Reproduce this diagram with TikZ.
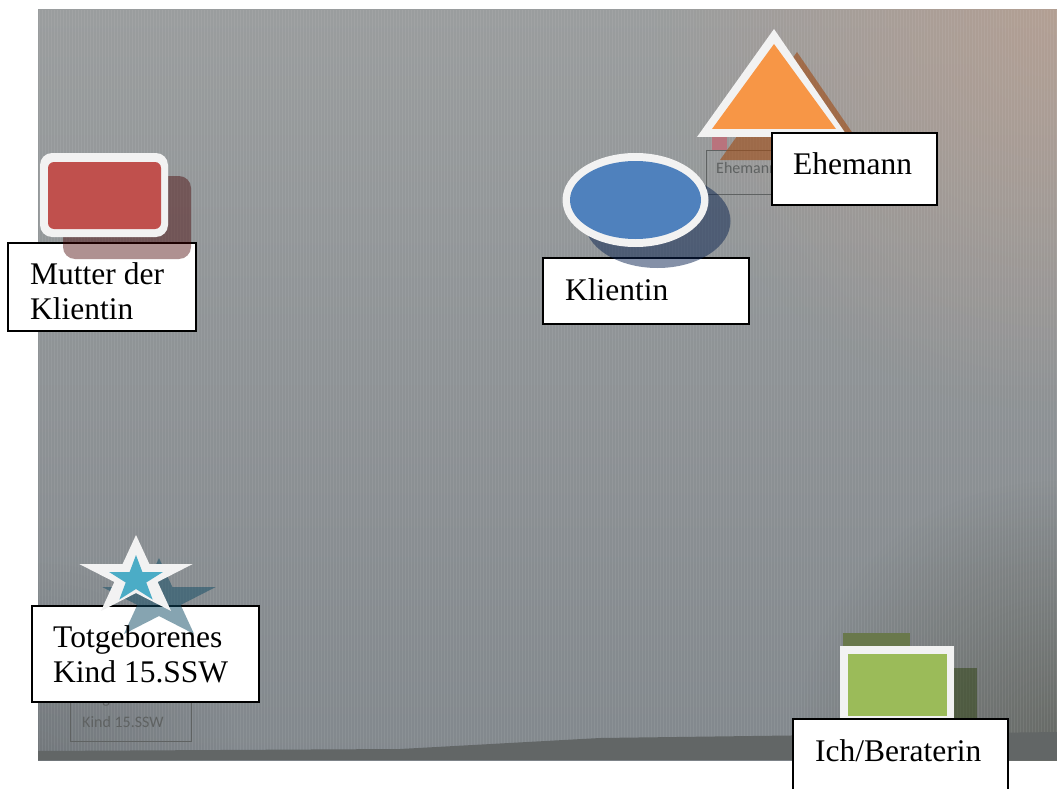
\documentclass[tikz,border=0pt]{standalone}
\usepackage{fontspec}
\setmainfont{Liberation Serif}
\newfontfamily\ghostfont{Carlito}
\usetikzlibrary{fadings}
\definecolor{bgtop}{RGB}{154,157,158}
\definecolor{bgbot}{RGB}{130,136,141}
\definecolor{bgwarm}{RGB}{185,160,145}
\definecolor{bgdark}{RGB}{70,70,55}
\definecolor{bezel}{RGB}{98,102,102}
\definecolor{ghostgray}{RGB}{95,98,98}
\definecolor{outline}{RGB}{242,242,242}
\definecolor{redfill}{RGB}{192,80,77}
\definecolor{bluefill}{RGB}{79,129,189}
\definecolor{orangefill}{RGB}{247,150,70}
\definecolor{greenfill}{RGB}{155,187,89}
\definecolor{tealfill}{RGB}{75,172,198}
\definecolor{redshadow}{RGB}{70,0,0}
\definecolor{blueshadow}{RGB}{10,35,80}
\definecolor{orangeshadow}{RGB}{160,75,20}
\definecolor{greenshadow}{RGB}{45,65,15}
\definecolor{tealshadow}{RGB}{15,75,100}
\definecolor{photogreen}{RGB}{105,120,75}
\definecolor{photopink}{RGB}{185,115,125}
\tikzfading[name=radfade, inner color=transparent!0, outer color=transparent!100]
% star path: #1 options, #2 cx, #3 cy, #4 R, #5 xscale
\newcommand{\mystarpath}[5]{%
  \path[#1]
    ({#2+#5*#4*cos(90)},{#3-#4*sin(90)}) --
    ({#2+#5*0.382*#4*cos(126)},{#3-0.382*#4*sin(126)}) --
    ({#2+#5*#4*cos(162)},{#3-#4*sin(162)}) --
    ({#2+#5*0.382*#4*cos(198)},{#3-0.382*#4*sin(198)}) --
    ({#2+#5*#4*cos(234)},{#3-#4*sin(234)}) --
    ({#2+#5*0.382*#4*cos(270)},{#3-0.382*#4*sin(270)}) --
    ({#2+#5*#4*cos(306)},{#3-#4*sin(306)}) --
    ({#2+#5*0.382*#4*cos(342)},{#3-0.382*#4*sin(342)}) --
    ({#2+#5*#4*cos(18)},{#3-#4*sin(18)}) --
    ({#2+#5*0.382*#4*cos(54)},{#3-0.382*#4*sin(54)}) -- cycle;}
\begin{document}
\begin{tikzpicture}[x=1pt,y=-1pt,
  labelbox/.style={draw=black, line width=1.3pt, fill=white},
  labeltext/.style={font=\fontsize{31.5}{35}\selectfont, inner sep=0pt, anchor=base west},
  ghosttext/.style={font=\ghostfont\fontsize{16}{18}\selectfont, text=ghostgray, inner sep=0pt, anchor=base west},
  ghostbox/.style={draw=ghostgray, line width=0.8pt},
  stripe/.style={white, opacity=0.07, line width=1pt}]
\useasboundingbox (0,0) rectangle (1057,789);
\fill[white] (0,0) rectangle (1057,789);
% ---- photo background ----
\begin{scope}
  \clip (38,10) rectangle (1057,760);
  \shade[top color=bgtop, bottom color=bgbot] (38,10) rectangle (1057,760);
  \fill[bgwarm, opacity=0.8, path fading=radfade] (1057,10) circle [radius=400pt];
  \fill[bgdark, opacity=0.45, path fading=radfade] (1057,740) circle [radius=260pt];
  \fill[black, opacity=0.12, path fading=radfade] (38,760) circle [radius=200pt];
  \foreach \sx in {39,42,...,1056} { \draw[stripe] (\sx,10) -- (\sx,760); }
  \fill[bezel] (38,751) -- (400,749) -- (600,738) -- (1057,732) -- (1057,760) -- (38,760) -- cycle;
  % faint shapes of the photographed screen
  \fill[photopink] (712,137) rectangle (727,150);
  \fill[photogreen] (843,633) rectangle (910,650);
  \draw[ghostbox] (706,150) rectangle (790,194);
  \node[ghosttext] (ghostehe) at (716,173) {Ehemann};
  \draw[ghostbox] (70,690) rectangle (191,741);
  \node[ghosttext] (ghosttot) at (82,703) {Totgeborenes};
  \node[ghosttext] (ghostkind) at (82,727) {Kind 15.SSW};
\end{scope}
% ---- Mutter der Klientin ----
\draw[labelbox] (8,243) rectangle (196,331);
\fill[redshadow, opacity=0.43, rounded corners=12pt] (63,176) rectangle (191,259);
\fill[outline, rounded corners=12pt] (40,153) rectangle (168,237);
\fill[redfill, rounded corners=6pt] (48,162) rectangle (161,229);
\node[labeltext] (mutter1) at (30,284) {Mutter der};
\node[labeltext] (mutter2) at (30,319) {Klientin};
% ---- Klientin ----
\draw[labelbox] (543,258) rectangle (749,324);
\fill[blueshadow, opacity=0.5] (657.5,221) ellipse [x radius=73pt, y radius=47pt];
\fill[outline] (635.5,200) ellipse [x radius=73pt, y radius=47pt];
\fill[bluefill] (635.5,200) ellipse [x radius=65.5pt, y radius=39pt];
\node[labeltext] (klientin) at (565,300) {Klientin};
% ---- Ehemann ----
\fill[orangeshadow, opacity=0.6] (797,52) -- (720,160) -- (871,160) -- cycle;
\fill[outline] (774,29) -- (697,137) -- (848,137) -- cycle;
\fill[orangefill] (774,44) -- (712,129) -- (836,129) -- cycle;
\draw[labelbox] (772,133) rectangle (937,205);
\node[labeltext] (ehemann) at (793,174) {Ehemann};
% ---- Totgeborenes Kind ----
\draw[labelbox] (32,606) rectangle (259,702);
\mystarpath{fill=tealshadow, opacity=0.5}{159}{600}{42}{1.42}
\mystarpath{fill=outline}{136}{577}{42}{1.42}
\mystarpath{fill=tealfill}{136}{579.6}{24.6}{1.15}
\node[labeltext] (tot1) at (53,647) {Totgeborenes};
\node[labeltext] (tot2) at (53,682) {Kind 15.SSW};
% ---- Ich/Beraterin ----
\fill[greenshadow, opacity=0.5] (863,668) rectangle (977,746);
\fill[outline] (840,646) rectangle (954,724);
\fill[greenfill] (848,654) rectangle (947,716);
\draw[labelbox] (793,719) rectangle (1008,800);
\node[labeltext] (ich) at (815,761) {Ich/Beraterin};
\end{tikzpicture}
\end{document}
